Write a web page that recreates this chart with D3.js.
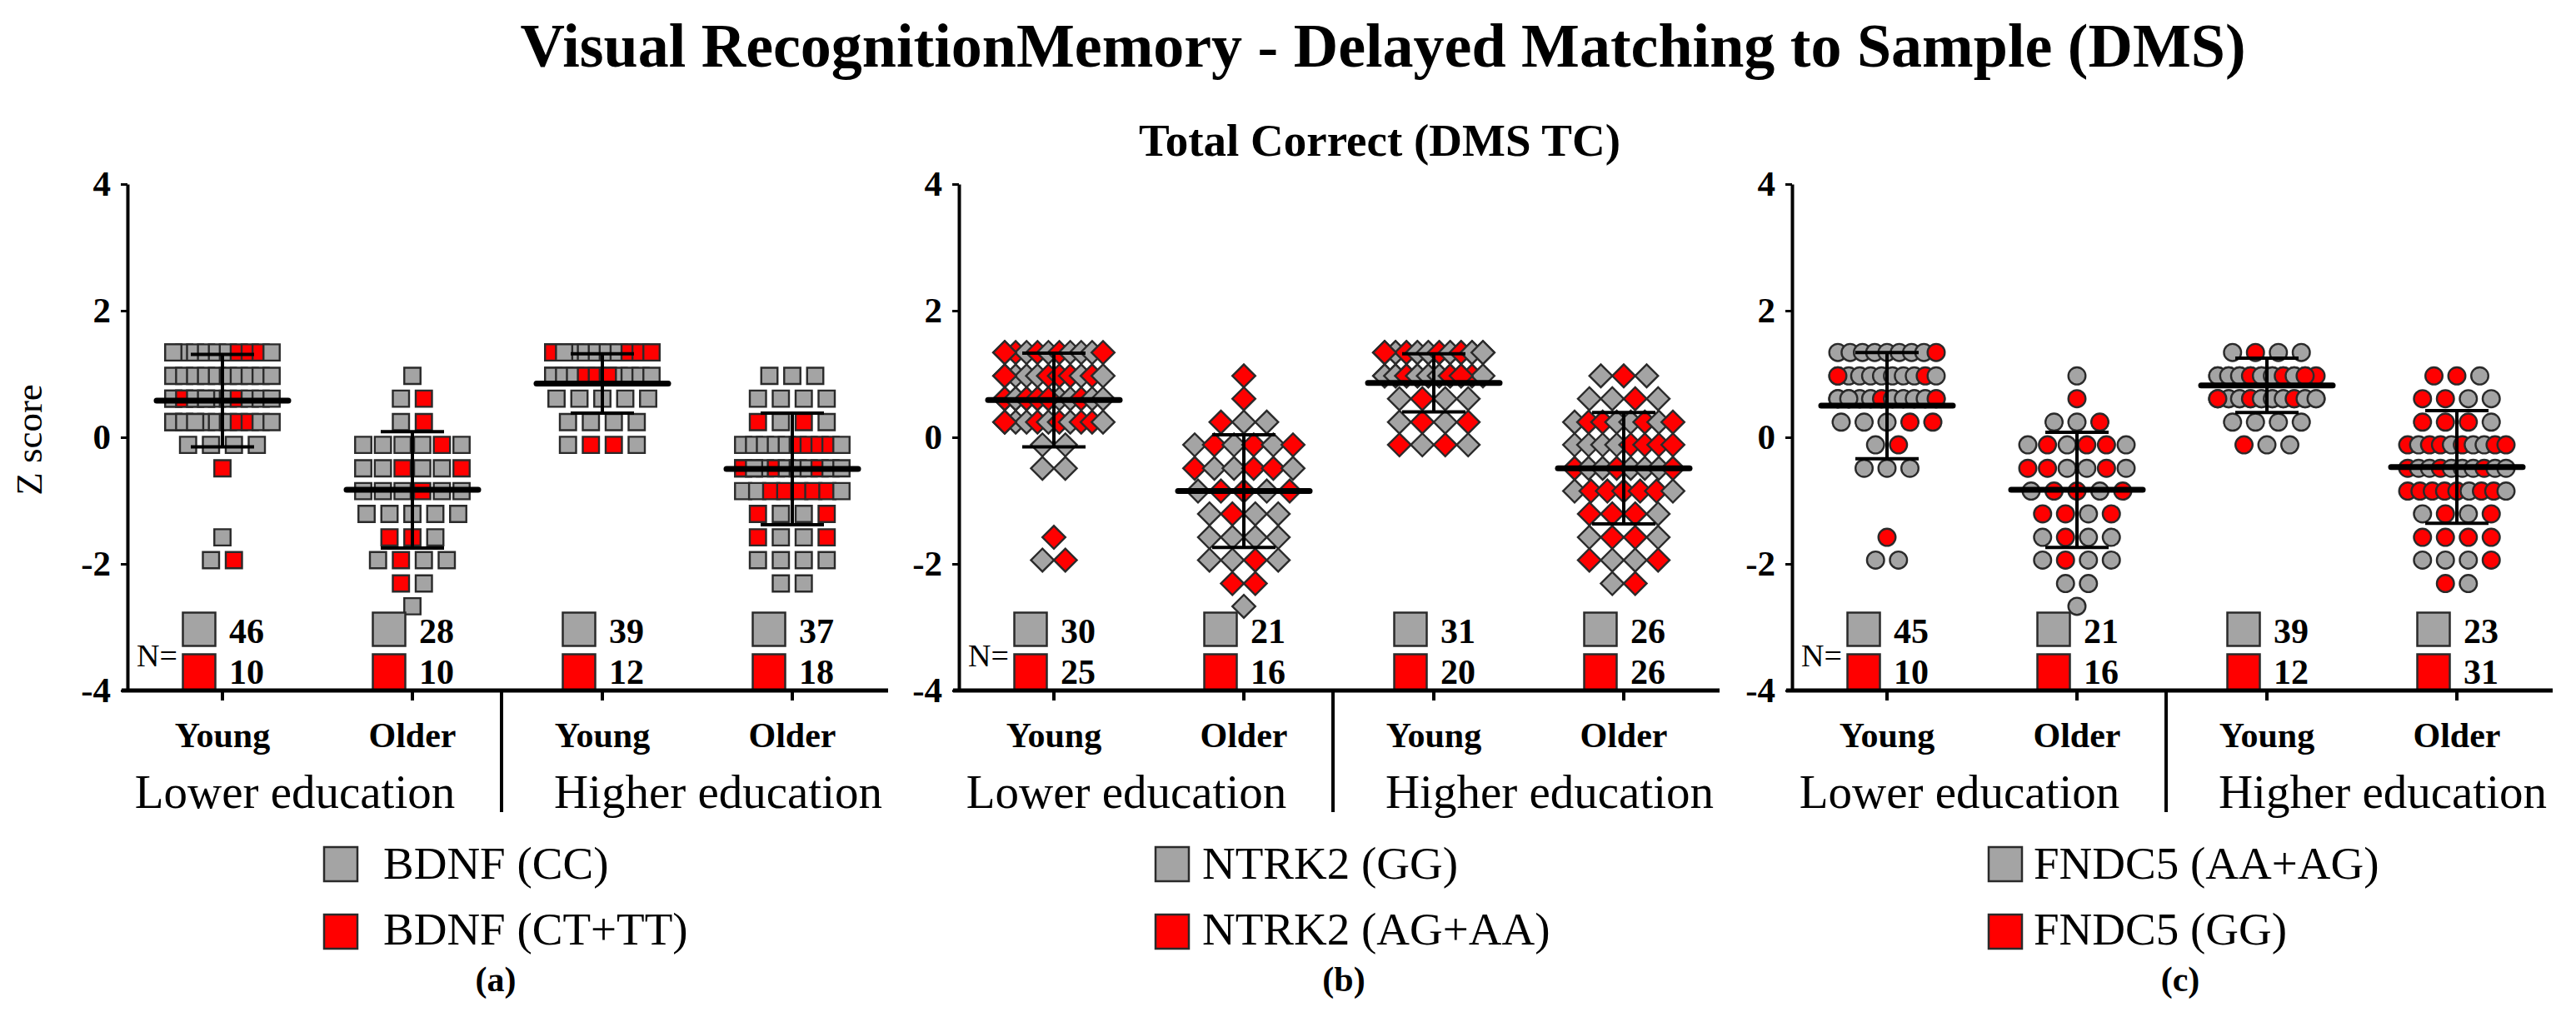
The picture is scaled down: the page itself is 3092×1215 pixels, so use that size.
<!DOCTYPE html>
<html><head><meta charset="utf-8">
<script src="https://cdn.jsdelivr.net/npm/d3@7"></script>
<style>
html,body{margin:0;padding:0;background:#fff;}
svg{display:block;}
</style></head><body>
<svg id="chart" width="3092" height="1215"></svg>
<script>
// ---------------- DATA ----------------
const title = "Visual RecognitionMemory - Delayed Matching to Sample (DMS)";
const subtitle = "Total Correct (DMS TC)";
const yAxisLabel = "Z score";
const yTicks = [-4, -2, 0, 2, 4];
const ageGroups = ["Young", "Older", "Young", "Older"];
const eduGroups = ["Lower education", "Higher education"];
const panelLabels = ["(a)", "(b)", "(c)"];
const markerShapes = ["square", "diamond", "circle"];
const genotypeLabels = [["BDNF (CC)", "BDNF (CT+TT)"], ["NTRK2 (GG)", "NTRK2 (AG+AA)"], ["FNDC5 (AA+AG)", "FNDC5 (GG)"]];
const nFirst = [[46, 28, 39, 37], [30, 21, 31, 26], [45, 21, 39, 23]];
const nSecond = [[10, 10, 12, 18], [25, 16, 20, 26], [10, 16, 12, 31]];
const groupMeans = [[0.58, -0.83, 0.85, -0.50], [0.59, -0.85, 0.86, -0.49], [0.50, -0.83, 0.82, -0.47]];
const groupSDs = [[0.73, 0.92, 0.47, 0.88], [0.74, 0.89, 0.46, 0.88], [0.84, 0.91, 0.43, 0.89]];
// discrete z-score levels (one per possible raw score)
const zLevels = [1.34, 0.97, 0.61, 0.24, -0.12, -0.49, -0.85, -1.21, -1.58, -1.94, -2.31, -2.67];
// per group (Young-Lower, Older-Lower, Young-Higher, Older-Higher): one string per z level,
// one letter per participant: G = first genotype (grey), R = second genotype (red)
const pointsBDNF = [
  ["GGGGGGRRRGG", "GGGGGGGGGG", "GGGGGGRGGGGRGG", "RGGGGGRRGGGGG", "GGGG", "R", "", "", "G", "GR", "", ""],
  ["", "G", "GR", "GR", "GGGGRG", "GGRGGR", "GGGRGG", "GGGGG", "RRG", "GRGG", "RG", "G"],
  ["RGGGGGGGGGGGGGGGGRRRRG", "RGRGGGGGGGGGGRRR", "GGGGG", "GGGG", "GRRG", "", "", "", "", "", "", ""],
  ["", "GGG", "GGGG", "RGRG", "GGGGGRRRRG", "GGGRGGGRGGRG", "GGRRRRRG", "RGGR", "RGGR", "GGGG", "GG", ""]
];
const pointsNTRK2 = [
  ["GRGRGRGGGRR", "GGGGRRRGRGR", "GGRRGGGRGGRGRRR", "RGGRGRGRRGR", "GG", "GG", "", "", "R", "GR", "", ""],
  ["", "R", "R", "RGG", "GRGRGR", "RGGRRG", "GRRGR", "GRGG", "GGGG", "GGRG", "RR", "G"],
  ["GRGGRGRGGRGGRGGRGRGGR", "RGGRGRGGRGGGRGGGRR", "GRGG", "GRGR", "RGRG", "", "", "", "", "", "", ""],
  ["", "GRG", "GGRG", "GRRGGRGR", "GGGGRRRR", "RGGRGGGR", "GRRRRRG", "RRRG", "GRRG", "RGGR", "GR", ""]
];
const pointsFNDC5 = [
  ["GGGGGGGGR", "GGGGGGGGRGR", "GGGGGGGRGGGGGGRGGGGRGG", "GGGRR", "GR", "GGG", "", "", "R", "GG", "", ""],
  ["", "G", "R", "GGR", "GRGRRG", "RRGGRG", "GRRGR", "RRGR", "GRGG", "GRGG", "GG", "G"],
  ["GRGG", "GGGRGGGGGRGGGRGGRGR", "GRGGGRGGGGGGGRGGGRGGR", "GGGG", "RGG", "", "", "", "", "", "", ""],
  ["", "RRG", "RRGG", "RRRG", "RGRRGRGGRR", "RGGRGGGRGG", "RRRRRGRRG", "GRGR", "RRRR", "GGGR", "RG", ""]
];
const allPoints = [pointsBDNF, pointsNTRK2, pointsFNDC5];

// ---------------- LAYOUT / STYLE ----------------
const FONT = '"Liberation Serif","Times New Roman",Times,serif';
const GRAY = "#a4a4a4", RED = "#ff0000", EDGE = "#2a2a2a";
const panelX = [153, 1151, 2151];
const plotW = 912;
const legendGap = [31, 16, 14];
const panelLabelDx = [442, 462, 466];
const maxSlots = 10, rowSpan = 118, slotStep = 27.5;

const svg = d3.select("#chart");
svg.append("rect").attr("width", 3092).attr("height", 1215).attr("fill", "#fff");

const y = d3.scaleLinear().domain([-4, 4]).range([829, 221]);
const x = d3.scaleBand().domain(d3.range(4)).range([0, plotW]);
const cxOf = i => x(i) + x.bandwidth() / 2;

svg.append("text").attr("x", 1660).attr("y", 80).attr("text-anchor", "middle")
  .attr("font-family", FONT).attr("font-weight", "bold").attr("font-size", 74).text(title);
svg.append("text").attr("x", 1656).attr("y", 187).attr("text-anchor", "middle")
  .attr("font-family", FONT).attr("font-weight", "bold").attr("font-size", 55).text(subtitle);
svg.append("text").attr("transform", "translate(34,528) rotate(-90)").attr("text-anchor", "middle")
  .attr("dy", "0.35em").attr("font-family", FONT).attr("font-size", 45).text(yAxisLabel);

const symSquare = d3.symbol(d3.symbolSquare, 19.5 * 19.5)();
const symCircle = d3.symbol(d3.symbolCircle, Math.PI * 10.3 * 10.3)();

panelLabels.forEach((lab, pi) => {
  const g = svg.append("g").attr("transform", `translate(${panelX[pi]},0)`);
  const shape = markerShapes[pi];

  // build point list (column scatter: points of one value spread across a row)
  const pts = [];
  allPoints[pi].forEach((rows, gi) => {
    const cx = cxOf(gi);
    rows.forEach((str, li) => {
      const n = str.length;
      if (!n) return;
      const slots = Math.min(n, maxSlots);
      const s = slots > 1 ? Math.min(slotStep, rowSpan / (slots - 1)) : 0;
      str.split("").forEach((c, k) => {
        const slot = k % slots;
        pts.push({ x: cx + (slot - (slots - 1) / 2) * s, z: zLevels[li], geno: c === "R" ? 1 : 0 });
      });
    });
  });

  g.selectAll("path.pt").data(pts).join("path").attr("class", "pt")
    .attr("d", shape === "circle" ? symCircle : symSquare)
    .attr("transform", d => `translate(${d.x},${y(d.z)})` + (shape === "diamond" ? " rotate(45)" : ""))
    .attr("fill", d => d.geno ? RED : GRAY)
    .attr("stroke", EDGE).attr("stroke-width", 2.4);

  // mean +/- SD
  const stats = d3.range(4).map(i => ({ cx: cxOf(i), m: groupMeans[pi][i], sd: groupSDs[pi][i] }));
  g.selectAll("line.sdv").data(stats).join("line").attr("class", "sdv")
    .attr("x1", d => d.cx).attr("x2", d => d.cx)
    .attr("y1", d => y(d.m + d.sd)).attr("y2", d => y(d.m - d.sd))
    .attr("stroke", "#000").attr("stroke-width", 4);
  [1, -1].forEach(sgn => {
    g.selectAll("line.cap" + (sgn > 0 ? "u" : "l")).data(stats).join("line")
      .attr("x1", d => d.cx - 38).attr("x2", d => d.cx + 38)
      .attr("y1", d => y(d.m + sgn * d.sd)).attr("y2", d => y(d.m + sgn * d.sd))
      .attr("stroke", "#000").attr("stroke-width", 4);
  });
  g.selectAll("line.mean").data(stats).join("line").attr("class", "mean")
    .attr("x1", d => d.cx - 79).attr("x2", d => d.cx + 79)
    .attr("y1", d => y(d.m)).attr("y2", d => y(d.m))
    .attr("stroke", "#000").attr("stroke-width", 7).attr("stroke-linecap", "round");

  // N legend
  const nl = g.append("g");
  nl.selectAll("rect.n1").data(d3.range(4)).join("rect")
    .attr("x", i => cxOf(i) - 47.5).attr("y", 735.5).attr("width", 39).attr("height", 40)
    .attr("fill", GRAY).attr("stroke", EDGE).attr("stroke-width", 2.5);
  nl.selectAll("rect.n2").data(d3.range(4)).join("rect")
    .attr("x", i => cxOf(i) - 47.5).attr("y", 785.5).attr("width", 39).attr("height", 43)
    .attr("fill", RED).attr("stroke", EDGE).attr("stroke-width", 2.5);
  nl.selectAll("text.t1").data(nFirst[pi]).join("text")
    .attr("x", (d, i) => cxOf(i) + 8).attr("y", 772)
    .attr("font-family", FONT).attr("font-weight", "bold").attr("font-size", 42).text(d => d);
  nl.selectAll("text.t2").data(nSecond[pi]).join("text")
    .attr("x", (d, i) => cxOf(i) + 8).attr("y", 820.5)
    .attr("font-family", FONT).attr("font-weight", "bold").attr("font-size", 42).text(d => d);
  nl.append("text").attr("x", 11).attr("y", 800).attr("font-family", FONT).attr("font-size", 38).text("N=");

  // Y axis
  const ya = g.append("g").call(d3.axisLeft(y).tickValues(yTicks).tickFormat(d => String(d))
    .tickSize(8).tickSizeOuter(0).tickPadding(12));
  ya.select(".domain").attr("stroke-width", 4);
  ya.selectAll(".tick line").attr("stroke-width", 3);
  ya.selectAll(".tick text").attr("font-family", FONT).attr("font-weight", "bold").attr("font-size", 43).attr("fill", "#000");

  // X axis
  const xa = g.append("g").attr("transform", `translate(0,${y(-4)})`)
    .call(d3.axisBottom(x).tickSize(12).tickSizeOuter(0).tickPadding(26).tickFormat(i => ageGroups[i]));
  xa.select(".domain").remove();
  xa.append("line").attr("x1", -7).attr("x2", plotW + 1).attr("stroke", "#000").attr("stroke-width", 5);
  xa.selectAll(".tick line").attr("stroke-width", 4);
  xa.selectAll(".tick text").attr("font-family", FONT).attr("font-weight", "bold").attr("font-size", 42).attr("fill", "#000");

  // education labels and divider
  g.selectAll("text.edu").data(eduGroups).join("text")
    .attr("x", (d, i) => i === 0 ? 201 : 709)
    .attr("y", 970).attr("text-anchor", "middle")
    .attr("font-family", FONT).attr("font-size", 57).text(d => d);
  g.append("line").attr("x1", 449).attr("x2", 449).attr("y1", y(-4)).attr("y2", 975)
    .attr("stroke", "#000").attr("stroke-width", 4);

  // genotype legend
  const lg = g.append("g");
  genotypeLabels[pi].forEach((t, k) => {
    lg.append("rect").attr("x", 236).attr("y", 1017 + k * 81).attr("width", 40).attr("height", 41)
      .attr("fill", k ? RED : GRAY).attr("stroke", EDGE).attr("stroke-width", 2.5);
    lg.append("text").attr("x", 276 + legendGap[pi]).attr("y", 1055 + k * 79)
      .attr("font-family", FONT).attr("font-size", 55).text(t);
  });
  g.append("text").attr("x", panelLabelDx[pi]).attr("y", 1190).attr("text-anchor", "middle")
    .attr("font-family", FONT).attr("font-weight", "bold").attr("font-size", 42).text(lab);
});
</script>
</body></html>
